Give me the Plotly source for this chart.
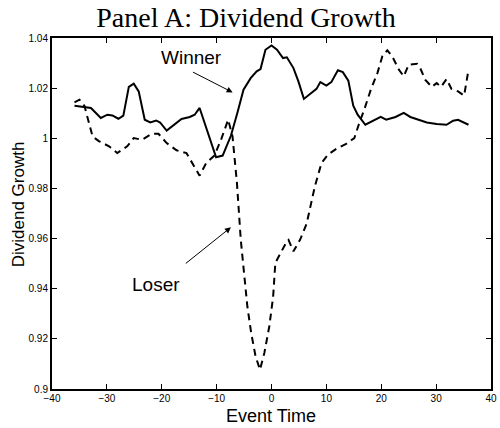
import plotly.graph_objects as go

# Winner (solid line)
winner_x = [-35.9, -34.1, -32.9, -31.1, -29.9, -29.0, -27.9, -27.0, -26.0, -25.1,
            -24.2, -23.1, -22.1, -21.0, -20.3, -19.1, -17.9, -16.4, -14.9, -14.0,
            -13.1, -10.1, -8.9, -7.4, -6.2, -5.1, -3.8, -2.7, -2.0, -1.1,
            0.0, 1.0, 2.1, 2.8, 4.0, 4.9, 5.9, 7.3, 8.2, 8.9,
            10.0, 10.9, 12.1, 13.0, 14.0, 14.9, 15.7, 17.1, 18.4, 19.9,
            20.9, 22.6, 24.1, 25.3, 26.8, 28.3, 30.1, 31.9, 33.1, 34.0, 35.9]
winner_y = [1.0130, 1.0125, 1.0121, 1.0081, 1.0094, 1.0091, 1.0078, 1.0090, 1.0205, 1.0218,
            1.0187, 1.0074, 1.0063, 1.0071, 1.0063, 1.0031, 1.0050, 1.0077, 1.0085, 1.0094,
            1.0121, 0.9924, 0.9931, 1.0010, 1.0103, 1.0194, 1.0240, 1.0267, 1.0276, 1.0353,
            1.0370, 1.0353, 1.0320, 1.0323, 1.0280, 1.0227, 1.0157, 1.0181, 1.0197, 1.0224,
            1.0210, 1.0224, 1.0271, 1.0264, 1.0230, 1.0130, 1.0094, 1.0054, 1.0067, 1.0085,
            1.0074, 1.0085, 1.0101, 1.0085, 1.0074, 1.0063, 1.0057, 1.0054, 1.0070, 1.0074, 1.0054]

# Loser (dashed line)
loser_x = [-35.9, -35.0, -34.1, -32.6, -31.4, -29.6, -28.1, -26.3, -25.1, -23.6,
           -21.8, -20.6, -19.1, -17.3, -15.5, -13.1, -11.9, -10.4, -9.2, -8.3,
           -7.9, -7.1, -6.3, -5.6, -5.0, -4.4, -3.7, -2.9, -2.1, -1.3,
           -0.4, 0.3, 0.7, 1.6, 2.8, 3.1, 4.0, 5.2, 6.4, 7.9,
           9.1, 10.3, 11.8, 13.6, 15.1, 16.0, 16.9, 18.1, 19.3, 20.2,
           21.1, 22.0, 23.2, 24.1, 25.0, 26.5, 27.1, 28.0, 29.2, 30.1,
           30.9, 31.9, 32.8, 34.0, 35.1, 35.8, 36.0]
loser_y = [1.0143, 1.0154, 1.0130, 1.0007, 0.9988, 0.9968, 0.9941, 0.9968, 1.0001, 0.9994,
           1.0018, 1.0018, 0.9981, 0.9952, 0.9941, 0.9851, 0.9901, 0.9931, 0.9994, 1.0054,
           1.0074, 1.0007, 0.9822, 0.9595, 0.9449, 0.9329, 0.9223, 0.9130, 0.9077, 0.9144,
           0.9250, 0.9369, 0.9503, 0.9542, 0.9589, 0.9595, 0.9549, 0.9595, 0.9659, 0.9808,
           0.9901, 0.9935, 0.9958, 0.9978, 1.0001, 1.0061, 1.0114, 1.0194, 1.0260, 1.0327,
           1.0351, 1.0327, 1.0274, 1.0247, 1.0293, 1.0297, 1.0280, 1.0234, 1.0205, 1.0220,
           1.0205, 1.0236, 1.0197, 1.0187, 1.0170, 1.0260, 1.0274]

x_tickvals = [-40, -30, -20, -10, 0, 10, 20, 30, 40]
x_ticktext = ["\u221240", "\u221230", "\u221220", "\u221210", "0", "10", "20", "30", "40"]
y_tickvals = [0.90, 0.92, 0.94, 0.96, 0.98, 1.00, 1.02, 1.04]
y_ticktext = ["0.9", "0.92", "0.94", "0.96", "0.98", "1", "1.02", "1.04"]

fig = go.Figure()
fig.add_trace(go.Scatter(x=winner_x, y=winner_y, mode="lines", name="Winner",
                         line=dict(color="black", width=2)))
fig.add_trace(go.Scatter(x=loser_x, y=loser_y, mode="lines", name="Loser",
                         line=dict(color="black", width=2, dash="7px,5px")))

sans = "Liberation Sans, Arial, Helvetica, sans-serif"
axis_common = dict(showline=True, linecolor="black", linewidth=2, mirror="ticks",
                   ticks="inside", ticklen=5, tickwidth=1, tickcolor="black",
                   showgrid=False, zeroline=False, ticklabeloverflow="allow",
                   tickfont=dict(family=sans, size=10, color="black"))

fig.update_layout(
    width=500, height=428,
    margin=dict(l=52, r=3, t=38, b=39),
    paper_bgcolor="white", plot_bgcolor="white",
    showlegend=False,
    title=dict(text="Panel A: Dividend Growth", x=0.492, xref="container", xanchor="center",
               y=1 - 17 / 428, yref="container", yanchor="middle",
               font=dict(family="Liberation Serif, Times New Roman, serif", size=28, color="black")),
    xaxis=dict(range=[-40, 40], tickvals=x_tickvals, ticktext=x_ticktext,
               ticklabelstandoff=-1, **axis_common),
    yaxis=dict(range=[0.9, 1.04], tickvals=y_tickvals, ticktext=y_ticktext, **axis_common),
)

annots = [
    dict(text="Event Time", xref="paper", yref="paper", x=0.4989, y=-0.0770,
         showarrow=False, xanchor="center", yanchor="middle",
         font=dict(family=sans, size=18, color="black")),
    dict(text="Dividend Growth", xref="paper", yref="paper", x=-0.0764, y=0.5275,
         showarrow=False, xanchor="center", yanchor="middle", textangle=-90,
         font=dict(family=sans, size=17, color="black")),
    dict(text="Winner", x=-14.64, y=1.0321, xref="x", yref="y", showarrow=False,
         xanchor="center", yanchor="middle", font=dict(family=sans, size=19, color="black")),
    dict(text="Loser", x=-21.0, y=0.9416, xref="x", yref="y", showarrow=False,
         xanchor="center", yanchor="middle", font=dict(family=sans, size=19, color="black")),
    dict(text="", x=-7.08, y=1.0183, ax=-14.59, ay=1.0267, xref="x", yref="y",
         axref="x", ayref="y", showarrow=True, arrowhead=2, arrowsize=1.2, arrowwidth=1,
         arrowcolor="black"),
    dict(text="", x=-7.39, y=0.9645, ax=-15.9, ay=0.9496, xref="x", yref="y",
         axref="x", ayref="y", showarrow=True, arrowhead=2, arrowsize=1.2, arrowwidth=1,
         arrowcolor="black"),
]
fig.update_layout(annotations=annots)

fig.write_html("out.html")
